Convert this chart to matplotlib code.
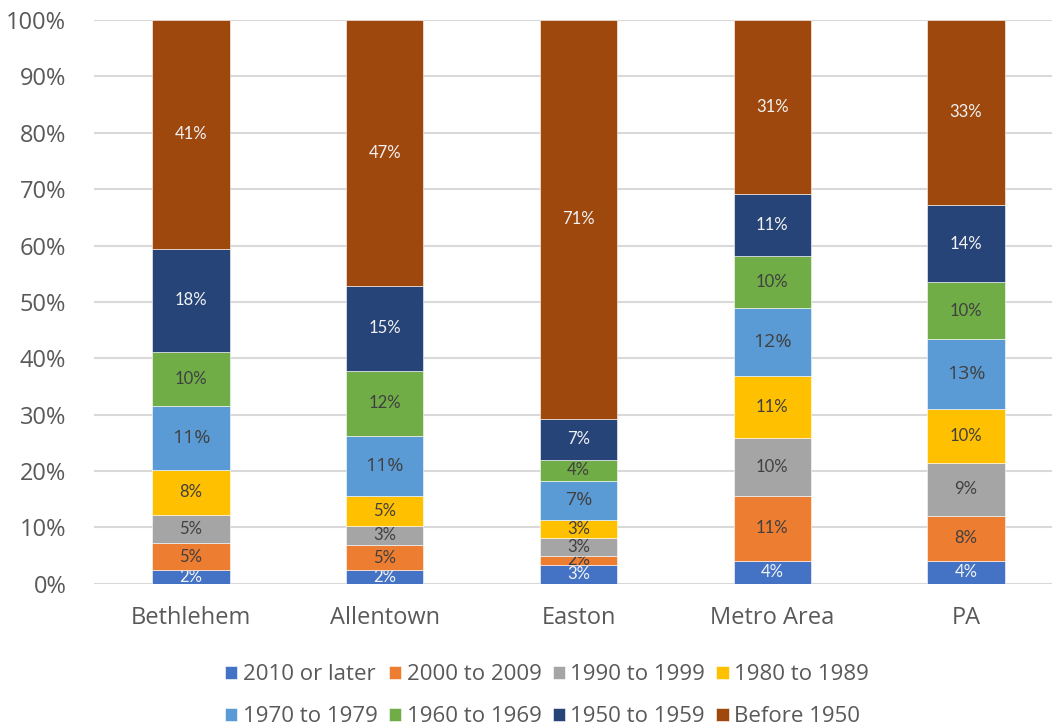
import matplotlib
matplotlib.use("Agg")
import matplotlib.pyplot as plt
import numpy as np

places = ["Bethlehem", "Allentown", "Easton", "Metro Area", "PA"]
periods = ["2010 or later", "2000 to 2009", "1990 to 1999", "1980 to 1989",
           "1970 to 1979", "1960 to 1969", "1950 to 1959", "Before 1950"]

# share of housing units by year built, one list per period (Bethlehem..PA)
built_2010_later = [2.4, 2.4, 3.3, 4.1, 4.1]
built_2000s = [4.8, 4.5, 1.7, 11.5, 8.0]
built_1990s = [5.0, 3.4, 3.2, 10.3, 9.4]
built_1980s = [8.0, 5.2, 3.1, 11.0, 9.5]
built_1970s = [11.4, 10.8, 7.0, 12.1, 12.4]
built_1960s = [9.6, 11.5, 3.6, 9.2, 10.1]
built_1950s = [18.2, 15.1, 7.4, 10.9, 13.7]
built_before_1950 = [40.6, 47.1, 70.7, 30.9, 32.8]

# labels as printed on the chart
labels_2010_later = ["2%", "2%", "3%", "4%", "4%"]
labels_2000s = ["5%", "5%", "2%", "11%", "8%"]
labels_1990s = ["5%", "3%", "3%", "10%", "9%"]
labels_1980s = ["8%", "5%", "3%", "11%", "10%"]
labels_1970s = ["11%", "11%", "7%", "12%", "13%"]
labels_1960s = ["10%", "12%", "4%", "10%", "10%"]
labels_1950s = ["18%", "15%", "7%", "11%", "14%"]
labels_before_1950 = ["41%", "47%", "71%", "31%", "33%"]

series = [built_2010_later, built_2000s, built_1990s, built_1980s,
          built_1970s, built_1960s, built_1950s, built_before_1950]
labels = [labels_2010_later, labels_2000s, labels_1990s, labels_1980s,
          labels_1970s, labels_1960s, labels_1950s, labels_before_1950]
colors = ["#4472C4", "#ED7D31", "#A5A5A5", "#FFC000",
          "#5B9BD5", "#70AD47", "#264478", "#9E480E"]
text_colors = ["#F2F2F2", "#404040", "#404040", "#404040",
               "#404040", "#404040", "#F2F2F2", "#F2F2F2"]

plt.rcParams['font.family'] = ['Open Sans', 'DejaVu Sans']

fig = plt.figure(figsize=(10.52, 7.27), dpi=100)
ax = fig.add_axes([0.0894, 0.197, 0.921, 0.7755])

x = np.arange(len(places))
bottom = np.zeros(len(places))
handles = []
for vals, labs, col, tcol, name in zip(series, labels, colors, text_colors, periods):
    vals = np.array(vals)
    bars = ax.bar(x, vals, 0.4, bottom=bottom, color=col, label=name,
                  edgecolor="white", linewidth=0.4, zorder=3)
    fs = 14 if col == "#5B9BD5" else 12
    fam = ["Open Sans", "DejaVu Sans"] if col == "#5B9BD5" else ["Lato", "DejaVu Sans"]
    ax.bar_label(bars, labels=labs, label_type="center", color=tcol,
                 fontsize=fs, family=fam)
    bottom += vals
    handles.append(bars)

ax.set_ylim(0, 100)
ax.set_xlim(-0.5, 4.5)
ax.set_yticks(np.arange(0, 101, 10))
ax.set_yticklabels([f"{v}%" for v in range(0, 101, 10)])
ax.set_xticks(x)
ax.set_xticklabels(places)
ax.tick_params(axis="y", length=0, labelsize=17, colors="#595959", pad=20)
ax.tick_params(axis="x", length=0, labelsize=17, colors="#595959", pad=16)
ax.grid(axis="y", color="#D9D9D9", linewidth=1.5, zorder=0)
for s in ax.spines.values():
    s.set_visible(False)

# legend fills row by row: reorder for matplotlib's column-major layout
order = [0, 4, 1, 5, 2, 6, 3, 7]
leg = fig.legend([handles[i] for i in order], [periods[i] for i in order],
                 loc="lower center", bbox_to_anchor=(0.52, -0.028), ncol=4,
                 frameon=False, fontsize=16, handlelength=0.55, handleheight=0.55,
                 handletextpad=0.25, columnspacing=0.5, labelspacing=0.95)
for t in leg.get_texts():
    t.set_color("#595959")

fig.savefig("out.png", dpi=100)
